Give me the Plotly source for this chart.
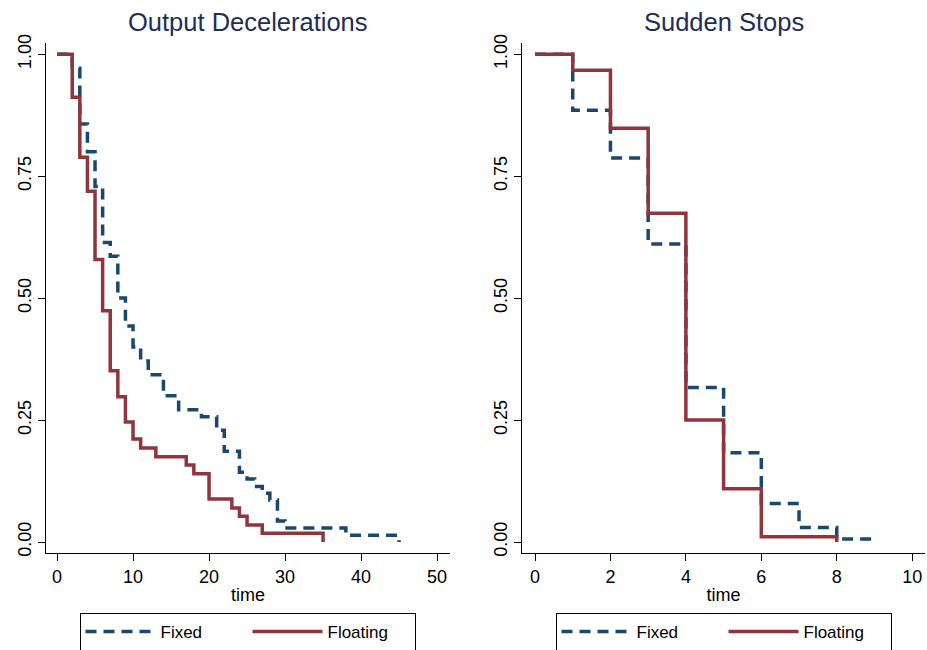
import plotly.graph_objects as go

# ---- data (Kaplan-Meier step estimates) ----
od_fixed_t = [0, 2, 3, 4, 5, 6, 7, 8, 9, 10, 11, 12, 14, 16, 19, 21, 22, 24, 25, 26, 27, 28, 29, 30, 38, 45]
od_fixed_s = [1.0, 0.971, 0.857, 0.800, 0.729, 0.614, 0.586, 0.500, 0.443, 0.400, 0.371, 0.343, 0.300,
              0.271, 0.257, 0.229, 0.186, 0.143, 0.129, 0.114, 0.100, 0.086, 0.043, 0.029, 0.014, 0.0]
od_float_t = [0, 2, 3, 4, 5, 6, 7, 8, 9, 10, 11, 13, 17, 18, 20, 23, 24, 25, 27, 35]
od_float_s = [1.0, 0.912, 0.789, 0.719, 0.579, 0.474, 0.351, 0.298, 0.246, 0.211, 0.193, 0.175,
              0.158, 0.140, 0.088, 0.070, 0.053, 0.035, 0.018, 0.0]

ss_fixed_t = [0, 1, 2, 3, 4, 5, 6, 7, 8, 9]
ss_fixed_s = [1.0, 0.885, 0.787, 0.611, 0.317, 0.183, 0.079, 0.030, 0.006, 0.006]
ss_float_t = [0, 1, 2, 3, 4, 5, 6, 8]
ss_float_s = [1.0, 0.967, 0.848, 0.674, 0.250, 0.109, 0.011, 0.0]

titles = ["Output Decelerations", "Sudden Stops"]
series_names = ["Fixed", "Floating"]
y_ticks = [0, 0.25, 0.5, 0.75, 1.0]
y_tick_labels = ["0.00", "0.25", "0.50", "0.75", "1.00"]
x_ticks_left = [0, 10, 20, 30, 40, 50]
x_ticks_right = [0, 2, 4, 6, 8, 10]

W, H = 927, 650
L, R, T, B = 46, 2, 43, 97          # outer bounds of the plotting region (px)
IW, IH = W - L - R, H - T - B
BLUE = "#1a476f"
RED = "#90353b"
TITLE_C = "#1e2d56"
FONT = "Liberation Sans, Arial, sans-serif"


def px_x(p):
    return (p - L) / IW


def px_y(p):
    return (H - B - p) / IH


fig = go.Figure()

panels = [
    dict(xa="x", ya="y", leg="legend", data=[(od_fixed_t, od_fixed_s), (od_float_t, od_float_s)]),
    dict(xa="x2", ya="y2", leg="legend2", data=[(ss_fixed_t, ss_fixed_s), (ss_float_t, ss_float_s)]),
]
for p in panels:
    for (t, s), name in zip(p["data"], series_names):
        fixed = name == "Fixed"
        fig.add_trace(go.Scatter(
            x=t, y=s, mode="lines", name=name, line_shape="hv",
            line=dict(color=BLUE if fixed else RED, width=3.5,
                      dash="11px,7px" if fixed else "solid"),
            xaxis=p["xa"], yaxis=p["ya"], legend=p["leg"], showlegend=True,
        ))

axis_common = dict(showline=True, linecolor="black", linewidth=1, mirror=False,
                   ticks="outside", ticklen=7, tickcolor="black", tickwidth=1,
                   showgrid=False, zeroline=False, automargin=False,
                   tickfont=dict(family=FONT, size=18, color="black"))

legend_common = dict(orientation="h", xanchor="center", y=px_y(613), yanchor="top",
                     bordercolor="black", borderwidth=1, bgcolor="white",
                     font=dict(family=FONT, size=17, color="black"),
                     entrywidth=82, entrywidthmode="pixels", itemwidth=70)

fig.update_layout(
    width=W, height=H,
    margin=dict(l=L, r=R, t=T, b=B, autoexpand=False),
    paper_bgcolor="white", plot_bgcolor="white",
    font=dict(family=FONT, size=18, color="black"),
    xaxis=dict(domain=[px_x(46), px_x(450)], range=[-1.45, 51.7], tickvals=x_ticks_left,
               title=dict(text="time", standoff=2, font=dict(size=18)), anchor="y", **axis_common),
    yaxis=dict(domain=[0, 1], range=[-0.0225, 1.023], tickvals=y_ticks, ticktext=y_tick_labels,
               tickangle=-90, anchor="x", **axis_common),
    xaxis2=dict(domain=[px_x(522), px_x(925)], range=[-0.345, 10.34], tickvals=x_ticks_right,
                title=dict(text="time", standoff=2, font=dict(size=18)), anchor="y2", **axis_common),
    yaxis2=dict(domain=[0, 1], range=[-0.0225, 1.023], tickvals=y_ticks, ticktext=y_tick_labels,
                tickangle=-90, anchor="x2", **axis_common),
    legend=dict(x=px_x(247.5), **legend_common),
    legend2=dict(x=px_x(723.5), **legend_common),
    annotations=[
        dict(text=titles[0], x=px_x(248), y=px_y(22), xref="paper", yref="paper",
             xanchor="center", yanchor="middle", showarrow=False,
             font=dict(family=FONT, size=25.5, color=TITLE_C)),
        dict(text=titles[1], x=px_x(723.5), y=px_y(22), xref="paper", yref="paper",
             xanchor="center", yanchor="middle", showarrow=False,
             font=dict(family=FONT, size=25.5, color=TITLE_C)),
    ],
)

fig.write_html(
    "out.html",
    config={"displayModeBar": False},
    post_script="document.body.style.margin='0';document.body.style.overflow='hidden';",
)
